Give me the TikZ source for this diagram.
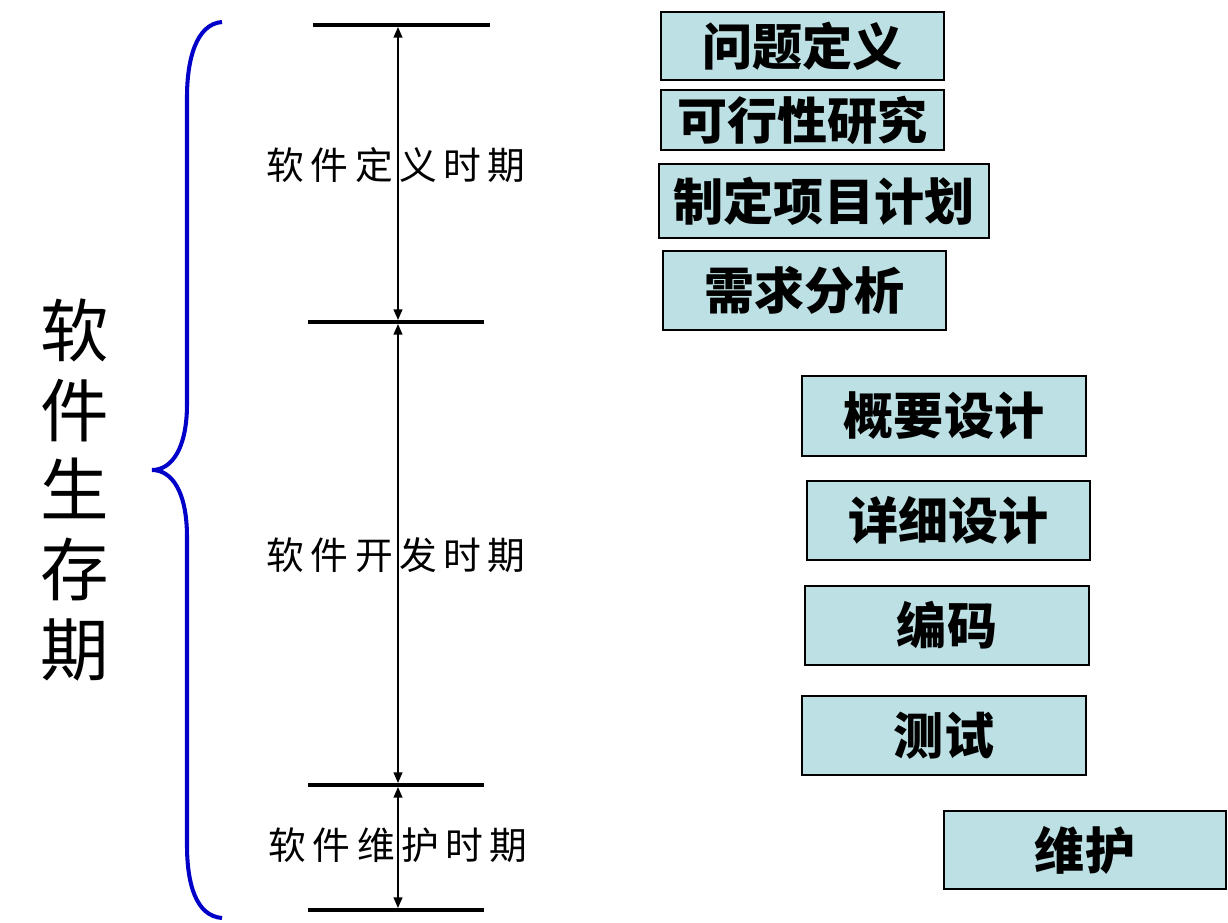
\documentclass[tikz,border=0pt]{standalone}
\usepackage{fontspec}
\newfontfamily\cjk{Noto Sans CJK SC}
\usetikzlibrary{arrows.meta}
\definecolor{boxfill}{RGB}{188,224,227}
\definecolor{braceblue}{RGB}{0,0,200}
\tikzset{
  stagebox/.style={draw=black, line width=1.1pt, fill=boxfill, inner sep=0pt, outer sep=0pt,
    font=\cjk\bfseries\fontsize{28.5}{30}\selectfont},
  periodlabel/.style={inner sep=0pt, font=\cjk\fontsize{21.5}{24}\selectfont},
  bar/.style={line width=2.3pt},
  span/.style={line width=0.8pt, {Triangle[width=5pt,length=6pt]}-{Triangle[width=5pt,length=6pt]}},
  bracepath/.style={draw=braceblue, line width=2.3pt}
}
\begin{document}
\begin{tikzpicture}[x=0.02cm, y=-0.02cm]
\useasboundingbox (0,0) rectangle (1228,923);
% big vertical label
\node[inner sep=0pt, align=center, font=\cjk\fontsize{39}{45.5}\selectfont] (life) at (75,490) {软\\件\\生\\存\\期};
% brace
\draw[bracepath] (222,22) .. controls (196,24) and (187,60) .. (187,97) -- (187,404)
  .. controls (187,448) and (172,470) .. (152,470)
  .. controls (172,470) and (187,492) .. (187,537) -- (187,845)
  .. controls (187,884) and (196,916) .. (222,918);
% bars
\coordinate (b1l) at (313,25); \coordinate (b1r) at (490,25);
\coordinate (b2l) at (308,322); \coordinate (b2r) at (484,322);
\coordinate (b3l) at (308,785); \coordinate (b3r) at (484,785);
\coordinate (b4l) at (308,910); \coordinate (b4r) at (484,910);
\draw[bar] (b1l) -- (b1r);
\draw[bar] (b2l) -- (b2r);
\draw[bar] (b3l) -- (b3r);
\draw[bar] (b4l) -- (b4r);
% period labels
\node[periodlabel] (p1) at (396,165) {软\,件\,定\,义\,时\,期};
\node[periodlabel] (p2) at (396,555) {软\,件\,开\,发\,时\,期};
\node[periodlabel] (p3) at (398,845) {软\,件\,维\,护\,时\,期};
% span arrows
\coordinate (a1) at (398,27); \coordinate (a2) at (398,320);
\coordinate (a3) at (398,324); \coordinate (a4) at (398,783);
\coordinate (a5) at (398,787); \coordinate (a6) at (398,908);
\draw[span] (a1) -- (a2);
\draw[span] (a3) -- (a4);
\draw[span] (a5) -- (a6);
% stage boxes
\node[stagebox, minimum width=5.66cm, minimum height=1.36cm] (s1) at (802.5,46) {问题定义};
\node[stagebox, minimum width=5.66cm, minimum height=1.2cm] (s2) at (802.5,120) {可行性研究};
\node[stagebox, minimum width=6.6cm, minimum height=1.48cm] (s3) at (824,201) {制定项目计划};
\node[stagebox, minimum width=5.66cm, minimum height=1.58cm] (s4) at (804.5,290.5) {需求分析};
\node[stagebox, minimum width=5.68cm, minimum height=1.6cm] (s5) at (944,416) {概要设计};
\node[stagebox, minimum width=5.66cm, minimum height=1.58cm] (s6) at (948.5,520.5) {详细设计};
\node[stagebox, minimum width=5.68cm, minimum height=1.58cm] (s7) at (947,625.5) {编码};
\node[stagebox, minimum width=5.68cm, minimum height=1.58cm] (s8) at (944,735.5) {测试};
\node[stagebox, minimum width=5.64cm, minimum height=1.56cm] (s9) at (1085,850) {维护};
\end{tikzpicture}
\end{document}
